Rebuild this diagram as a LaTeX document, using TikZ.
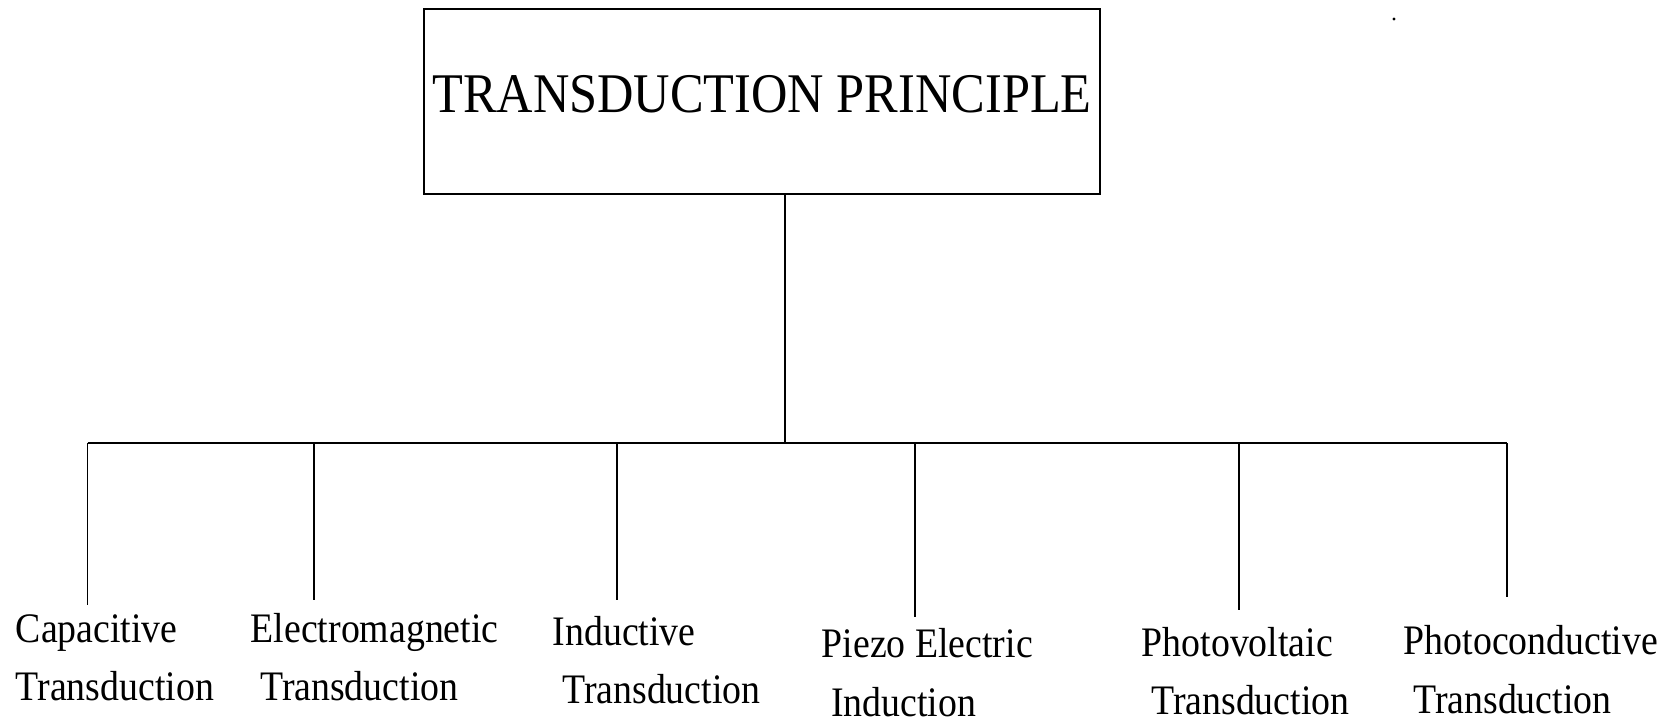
\documentclass[tikz,border=0pt]{standalone}
\usepackage{fontspec}
\setmainfont[FakeStretch=0.9]{Liberation Serif}
\usetikzlibrary{positioning}

\begin{document}
\begin{tikzpicture}[x=0.5pt, y=-0.5pt, line width=0.8pt,
         title/.style = {draw, line width=1pt, minimum width=338pt,
                         minimum height=92.5pt, inner sep=0pt,
                         text depth=7.5pt, font=\fontsize{28}{34}\selectfont},
          leaf/.style = {anchor=base west, align=left, inner sep=0pt,
                         font=\fontsize{21}{29.25}\selectfont}
                        ]
\useasboundingbox (0,0) rectangle (1680,724);
% Draw the principle box
    \node[title] (T) at (762,101) {TRANSDUCTION PRINCIPLE};
% Draw the leaf labels (base is the last line)
    \node[leaf] (L-1) at (15,700.5)   {Capacitive\\Transduction};
    \node[leaf] (L-2) at (250,700.5)  {Electromagnetic\\~Transduction};
    \node[leaf] (L-3) at (552,703.5)  {Inductive\\~Transduction};
    \node[leaf] (L-4) at (821,716)    {Piezo Electric\\~Induction};
    \node[leaf] (L-5) at (1141,714.5) {Photovoltaic\\~Transduction};
    \node[leaf] (L-6) at (1403,713) {Photoconductive\\~Transduction};
% Junctions on the bus and free ends of the drops
\foreach \x/\e [count=\i] in {87.5/605, 314/600, 617/600,
                              915/617, 1239/610, 1507/597}
{
    \coordinate (J-\i) at (\x,443);
    \coordinate (E-\i) at (\x,\e);
}
    \coordinate (S) at (785,443);
% Connect the box with the bus and the bus with the labels
    \draw (S |- T.south) -- (S);
    \draw (J-1) -- (J-6);
    \foreach \i in {1,...,6}
        \draw (J-\i) -- (E-\i);
    \fill (1394,19) circle[radius=0.8pt];
\end{tikzpicture}
\end{document}
